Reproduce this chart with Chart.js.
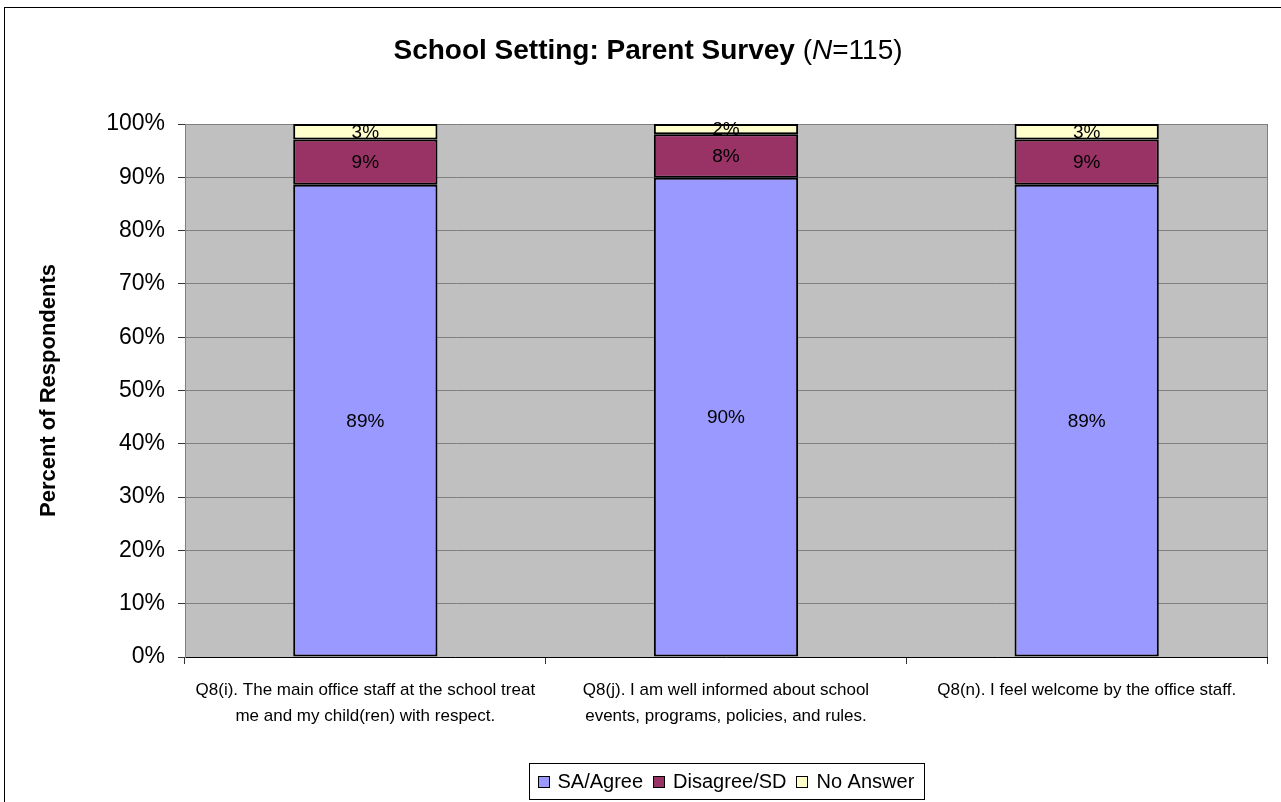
<!DOCTYPE html>
<html><head><meta charset="utf-8">
<script src="https://cdn.jsdelivr.net/npm/chart.js@4.4.0/dist/chart.umd.min.js"></script>
<style>html,body{margin:0;padding:0;background:#fff;overflow:hidden}#wrap{width:1281px;height:802px;position:relative}canvas{display:block}</style>
</head><body><div id="wrap"><canvas id="c" width="1281" height="802"></canvas></div>
<script>
const categories = [
  ["Q8(i). The main office staff at the school treat", "me and my child(ren) with respect."],
  ["Q8(j). I am well informed about school", "events, programs, policies, and rules."],
  ["Q8(n). I feel welcome by the office staff."]
];
const seriesNames = ["SA/Agree", "Disagree/SD", "No Answer"];
const agree = [88.6, 89.9, 88.6];
const disagree = [8.5, 8.2, 8.5];
const noAnswer = [2.9, 1.9, 2.9];
const yMin = 0, yMax = 100, yStep = 10;
const titleBold = "School Setting: Parent Survey ";
const titleN = "N";
const titleRest = "=115)";
const yTitle = "Percent of Respondents";

const colors = ["#9999FF", "#993366", "#FFFFCC"];
const SANS = "'Liberation Sans', Arial, sans-serif";

function hasFont(name) {
  const c = document.createElement('canvas').getContext('2d');
  c.font = "40px monospace";
  const a = c.measureText("abcdefghiWWWmmm").width;
  c.font = "40px '" + name + "', monospace";
  return c.measureText("abcdefghiWWWmmm").width !== a;
}
const narrow = hasFont('Liberation Sans Narrow');
const xFont = narrow ? {family: "'Liberation Sans Narrow', " + SANS, size: 21, lineHeight: 1.25} : {family: SANS, size: 17, lineHeight: 1.5};

Chart.defaults.font.family = SANS;
Chart.defaults.color = "#000";

const decor = {
  id: 'decor',
  beforeDraw(chart) {
    const ctx = chart.ctx, a = chart.chartArea;
    ctx.save();
    ctx.fillStyle = '#fff';
    ctx.fillRect(0, 0, chart.width, chart.height);
    ctx.fillStyle = '#C0C0C0';
    ctx.fillRect(a.left, a.top, a.right - a.left, a.bottom - a.top);
    ctx.restore();
  },
  afterDatasetsDraw(chart) {
    const ctx = chart.ctx;
    ctx.save();
    ctx.font = "19px " + SANS;
    ctx.fillStyle = '#000';
    ctx.textAlign = 'center';
    ctx.textBaseline = 'middle';
    chart.data.datasets.forEach((ds, i) => {
      const meta = chart.getDatasetMeta(i);
      meta.data.forEach((el, j) => {
        const p = el.getCenterPoint();
        ctx.fillText(Math.round(ds.data[j]) + '%', p.x, p.y + 1);
      });
    });
    ctx.restore();
  },
  afterDraw(chart) {
    const ctx = chart.ctx, a = chart.chartArea;
    ctx.save();
    // plot right border
    ctx.strokeStyle = '#808080';
    ctx.lineWidth = 1;
    ctx.beginPath();
    ctx.moveTo(Math.round(a.right) + 0.5, a.top);
    ctx.lineTo(Math.round(a.right) + 0.5, a.bottom);
    ctx.stroke();
    // outer frame
    ctx.strokeStyle = '#000';
    ctx.strokeRect(4.5, 7.5, chart.width + 10, chart.height + 10);
    // title
    ctx.fillStyle = '#000';
    ctx.textBaseline = 'alphabetic';
    ctx.textAlign = 'left';
    const fB = "bold 28px " + SANS, fN = "28px " + SANS, fI = "italic 28px " + SANS;
    ctx.font = fB; const w1 = ctx.measureText(titleBold).width;
    ctx.font = fN; const w2 = ctx.measureText("(").width;
    ctx.font = fI; const w3 = ctx.measureText(titleN).width;
    ctx.font = fN; const w4 = ctx.measureText(titleRest).width;
    let x = 648 - (w1 + w2 + w3 + w4) / 2;
    const by = 59;
    ctx.font = fB; ctx.fillText(titleBold, x, by); x += w1;
    ctx.font = fN; ctx.fillText("(", x, by); x += w2;
    ctx.font = fI; ctx.fillText(titleN, x, by); x += w3;
    ctx.font = fN; ctx.fillText(titleRest, x, by);
    // y title
    ctx.save();
    ctx.translate(49, (a.top + a.bottom) / 2);
    ctx.rotate(-Math.PI / 2);
    ctx.font = "bold 22px " + SANS;
    ctx.textAlign = 'center';
    ctx.textBaseline = 'middle';
    ctx.fillText(yTitle, 0, 0);
    ctx.restore();
    // legend
    ctx.font = "20px " + SANS;
    const sq = 11, gapSq = 9, gapItem = 10, padL = 8, padR = 10;
    let total = padL + padR;
    const widths = chart.data.datasets.map(d => ctx.measureText(d.label).width);
    widths.forEach((w, i) => { total += sq + gapSq + w + (i < widths.length - 1 ? gapItem : 0); });
    const cx = (a.left + a.right) / 2;
    const bx = Math.round(cx - total / 2) + 0.5, byTop = 763.5, bh = 36;
    ctx.fillStyle = '#fff';
    ctx.fillRect(bx, byTop, total, bh);
    ctx.strokeStyle = '#000';
    ctx.lineWidth = 1;
    ctx.strokeRect(bx, byTop, Math.round(total), bh);
    let lx = bx + padL;
    const midY = byTop + bh / 2;
    chart.data.datasets.forEach((d, i) => {
      ctx.fillStyle = d.backgroundColor;
      ctx.fillRect(Math.round(lx) + 0.5, Math.round(midY - sq / 2) + 0.5, sq, sq);
      ctx.strokeStyle = '#000';
      ctx.strokeRect(Math.round(lx) + 0.5, Math.round(midY - sq / 2) + 0.5, sq, sq);
      lx += sq + gapSq;
      ctx.fillStyle = '#000';
      ctx.textAlign = 'left';
      ctx.textBaseline = 'middle';
      ctx.fillText(d.label, lx, midY + 1);
      lx += widths[i] + gapItem;
    });
    ctx.restore();
  }
};

const seriesData = [agree, disagree, noAnswer];
new Chart(document.getElementById('c'), {
  type: 'bar',
  data: {
    labels: categories,
    datasets: seriesNames.map((n, i) => ({
      label: n,
      data: seriesData[i],
      backgroundColor: colors[i],
      borderColor: '#000',
      borderWidth: 2,
      borderSkipped: false,
      categoryPercentage: 1.0,
      barPercentage: 0.4
    }))
  },
  options: {
    responsive: false,
    devicePixelRatio: 1,
    animation: false,
    layout: { padding: { top: 124, left: 0, right: 14, bottom: 0 } },
    plugins: { legend: { display: false }, title: { display: false }, tooltip: { enabled: false } },
    scales: {
      x: {
        stacked: true,
        offset: true,
        grid: { display: true, drawOnChartArea: false, drawTicks: true, tickLength: 7, offset: true, color: '#000', tickColor: '#333' },
        border: { display: true, color: '#000', width: 1 },
        ticks: { font: xFont, color: '#000', padding: 14, maxRotation: 0, autoSkip: false },
        afterFit(s) { s.height = 145; }
      },
      y: {
        stacked: true,
        min: yMin, max: yMax,
        grid: { color: '#808080', tickColor: '#333', tickLength: 7, lineWidth: 1 },
        border: { display: true, color: '#808080' },
        ticks: { stepSize: yStep, font: { size: 23, family: SANS }, color: '#000', padding: 13, callback: v => v + '%' },
        afterFit(s) { s.width = 185; }
      }
    }
  },
  plugins: [decor]
});
</script>
</body></html>
